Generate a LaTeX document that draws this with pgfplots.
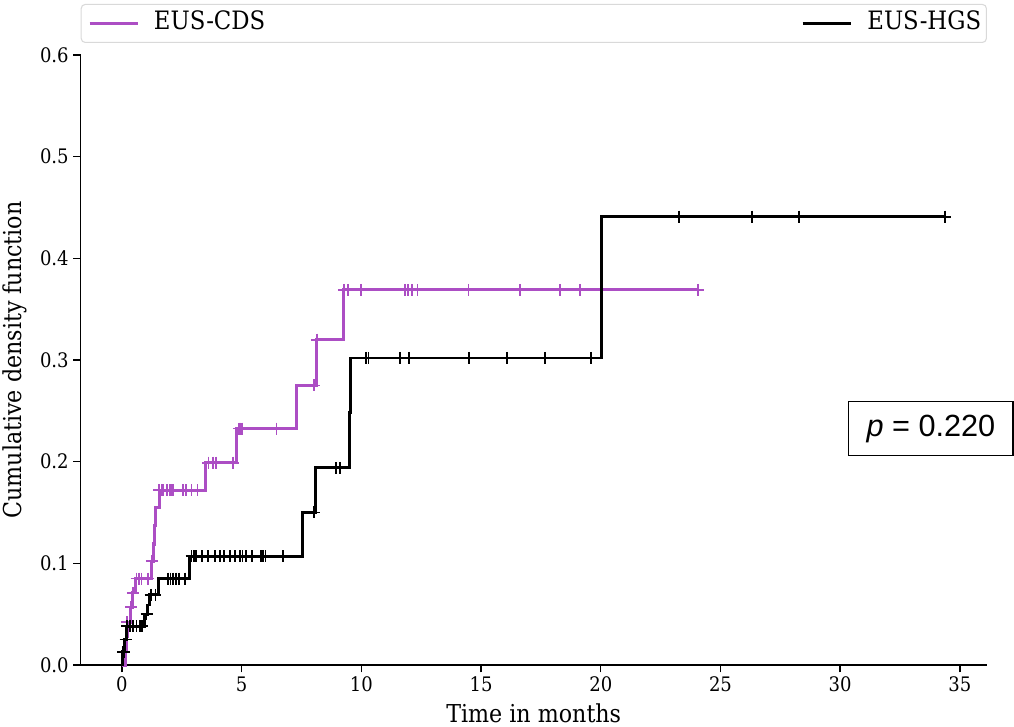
\documentclass[border=0pt]{standalone}
\usepackage{pgfplots}
\pgfplotsset{compat=1.18}
\usepackage{fontspec}
\setmainfont{DejaVu Serif Condensed}
\newfontfamily\arialfont{Liberation Sans}
\definecolor{cdspurple}{RGB}{172,78,196}
\begin{document}
\begin{tikzpicture}
\begin{axis}[
  name=ax,
  scale only axis,
  width=679.5pt, height=457.5pt,
  xmin=-1.725, xmax=36.12,
  ymin=0, ymax=0.6,
  axis lines*=left,
  axis line style={line width=1.2pt},
  tick align=outside,
  major tick length=5.5pt,
  tick style={line width=1.1pt, black},
  xtick={0,5,...,35},
  ytick={0,0.1,...,0.6},
  /pgf/number format/assume math mode=true,
  yticklabel style={/pgf/number format/.cd, fixed, fixed zerofill, precision=1},
  ticklabel style={font=\fontsize{15}{17}\selectfont},
  xlabel={Time in months},
  ylabel={Cumulative density function},
  label style={font=\fontsize{18.5}{21}\selectfont},
  xlabel style={at={(axis description cs:0.5,-0.079)}, anchor=center},
  ylabel style={at={(axis description cs:-0.0725,0.5)}, anchor=center},
  clip=false,
  legend columns=2,
  legend image code/.code={\draw[#1] (0pt,0pt) -- (36pt,0pt);},
  legend style={at={(axis description cs:0,1.0197)}, anchor=south west,
    draw=black!15, line width=0.8pt, rounded corners=3pt,
    font=\fontsize{19}{22}\selectfont,
    nodes={inner sep=0pt, text height=13.5pt, text depth=4pt},
    inner xsep=5.25pt, inner ysep=5.5pt, column sep=0pt},
]
% EUS-CDS (purple) step curve
\addplot[const plot mark left, cdspurple, line width=2.3pt] coordinates {
(0,0) (0.15,0.014) (0.18,0.028) (0.22,0.042) (0.36,0.057) (0.44,0.071) (0.55,0.085)
(1.23,0.102) (1.3,0.119) (1.35,0.137) (1.42,0.155) (1.55,0.172) (3.47,0.199)
(4.79,0.2325) (7.30,0.275) (8.13,0.320) (9.24,0.369) (24.07,0.369)};
\addlegendentry{\makebox[496.5pt][l]{\hspace*{11pt}EUS-CDS}}
% EUS-CDS censors
\addplot[only marks, mark=+, mark size=4.5pt, cdspurple, line width=1.3pt, forget plot] coordinates {
(0.2,0.042) (0.38,0.057) (0.46,0.071) (0.61,0.085) (0.72,0.085) (0.82,0.085) (1.10,0.085)
(1.25,0.102) (1.55,0.172) (1.66,0.172) (1.73,0.172) (1.87,0.172) (2.0,0.172) (2.08,0.172)
(2.14,0.172) (2.56,0.172) (2.67,0.172) (2.91,0.172) (3.15,0.172)
(3.61,0.199) (3.81,0.199) (3.93,0.199) (4.65,0.199)
(4.9,0.2325) (4.95,0.2325) (5.0,0.2325) (6.46,0.2325)
(8.02,0.275) (8.16,0.320)
(9.27,0.369) (9.45,0.369) (9.98,0.369) (11.82,0.369) (11.96,0.369) (12.13,0.369)
(12.34,0.369) (14.47,0.369) (16.62,0.369) (18.30,0.369) (19.13,0.369) (24.07,0.369)};
% EUS-HGS (black) step curve
\addplot[const plot mark left, black, line width=2.1pt] coordinates {
(0,0) (0.03,0.013) (0.1,0.025) (0.2,0.038) (0.95,0.050) (1.05,0.059) (1.16,0.069)
(1.52,0.085) (2.81,0.107) (7.55,0.150) (8.10,0.194) (9.49,0.248) (9.55,0.302)
(20.04,0.441) (34.38,0.441)};
\addlegendentry{\makebox[95.5pt][l]{\hspace*{11.5pt}EUS-HGS}}
% EUS-HGS censors
\addplot[only marks, mark=+, mark size=4.5pt, black, line width=1.3pt, forget plot] coordinates {
(0.05,0.013) (0.08,0.013) (0.15,0.025) (0.22,0.038)
(0.33,0.038) (0.47,0.038) (0.61,0.038) (0.74,0.038) (0.85,0.038)
(1.03,0.050) (1.2,0.069) (1.4,0.069)
(1.93,0.085) (2.03,0.085) (2.14,0.085) (2.26,0.085) (2.38,0.085) (2.63,0.085)
(2.91,0.107) (3.01,0.107) (3.09,0.107) (3.33,0.107) (3.58,0.107) (3.88,0.107)
(4.09,0.107) (4.26,0.107) (4.51,0.107) (4.72,0.107) (4.93,0.107) (5.04,0.107)
(5.17,0.107) (5.42,0.107) (5.81,0.107) (5.90,0.107) (6.00,0.107) (6.74,0.107)
(8.03,0.150) (8.94,0.194) (9.11,0.194)
(10.19,0.302) (10.30,0.302) (11.61,0.302) (11.99,0.302) (14.51,0.302) (16.09,0.302)
(17.67,0.302) (19.59,0.302)
(23.27,0.441) (26.33,0.441) (28.29,0.441) (34.38,0.441)};
\node[draw=black, line width=0.8pt, fill=white, minimum width=123pt, minimum height=40pt,
  inner sep=0pt, font=\arialfont\fontsize{23}{27}\selectfont]
  at (axis description cs:0.9385,0.3877) {\textit{p} = 0.220};
\end{axis}
\pgfresetboundingbox
\path[use as bounding box] ([xshift=-60.5pt,yshift=-46.5pt]ax.south west) rectangle ([xshift=20.5pt,yshift=41.25pt]ax.north east);
\end{tikzpicture}
\end{document}
